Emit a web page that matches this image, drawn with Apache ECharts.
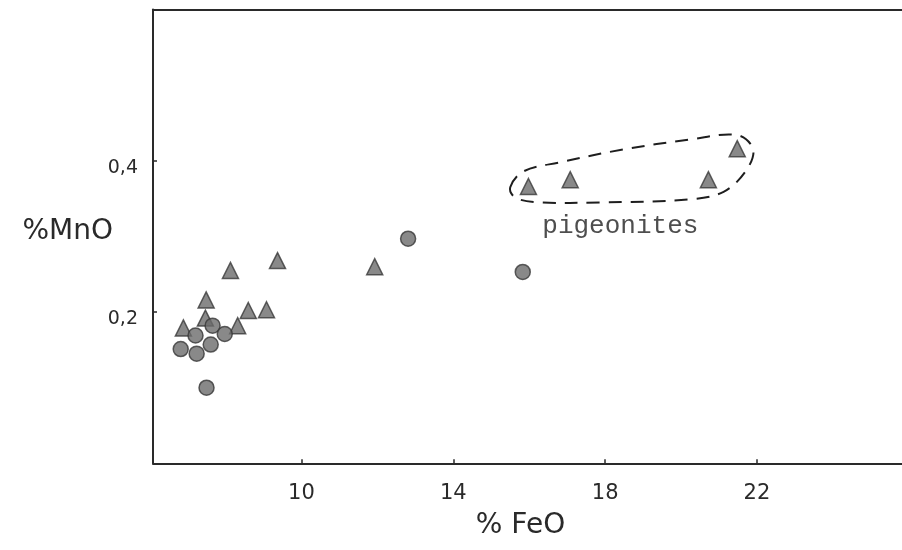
<!DOCTYPE html>
<html>
<head>
<meta charset="utf-8">
<script src="https://cdn.jsdelivr.net/npm/echarts@6/dist/echarts.min.js"></script>
<style>
  html, body { margin: 0; padding: 0; background: #ffffff; }
  #chart { width: 902px; height: 550px; }
</style>
</head>
<body>
<div id="chart"></div>
<script>
// MnO versus FeO contents (wt %) of the analysed pyroxenes

// triangles
const triangleFeO = [6.89, 7.47, 7.49, 8.13, 8.32, 8.60, 9.08, 9.37, 11.93, 15.98, 17.08, 20.72, 21.48];
const triangleMnO = [0.179, 0.192, 0.216, 0.255, 0.182, 0.202, 0.203, 0.268, 0.260, 0.366, 0.375, 0.375, 0.416];

// circles
const circleFeO = [6.82, 7.24, 7.61, 7.21, 7.66, 7.98, 7.50, 12.81, 15.83];
const circleMnO = [0.151, 0.145, 0.157, 0.169, 0.182, 0.171, 0.100, 0.297, 0.253];

// tick labels
const xTicks = [10, 14, 18, 22];
const yTicks = [0.2, 0.4];

// dashed outline around the pigeonite group (FeO, MnO)
const outlineFeO = [15.50, 15.85, 16.82, 18.48, 20.24, 21.48, 21.90, 21.70, 21.12, 20.24, 17.88, 16.30, 15.64];
const outlineMnO = [0.365, 0.386, 0.398, 0.415, 0.428, 0.434, 0.415, 0.386, 0.359, 0.349, 0.345, 0.345, 0.351];

// annotation
const groupLabel = 'pigeonites';
const groupLabelPos = [18.40, 0.314];

const ink = '#2a2a2a';
const markFill = '#6c6c6c';
const markEdge = '#383838';
const xMin = 6.09, xMax = 25.82;

const zip = (xs, ys) => xs.map((x, i) => [x, ys[i]]);

const chart = echarts.init(document.getElementById('chart'), null, { renderer: 'canvas' });

chart.setOption({
  backgroundColor: '#ffffff',
  animation: false,
  grid: { left: 153, right: 0, top: 9.5, bottom: 86.7, show: false, containLabel: false },
  xAxis: [
    {
      type: 'value', min: xMin, max: xMax, position: 'bottom',
      name: '% FeO', nameLocation: 'middle', nameGap: 62,
      nameTextStyle: { fontFamily: 'DejaVu Sans', fontSize: 28, color: ink,
        verticalAlign: 'middle', padding: [0, 14, 0, 0] },
      axisLine: { show: true, lineStyle: { color: ink, width: 2 } },
      axisTick: { show: true, inside: true, length: 4, customValues: xTicks,
        lineStyle: { color: ink, width: 1.5 } },
      axisLabel: { show: true, customValues: xTicks, margin: 20,
        fontFamily: 'DejaVu Sans', fontSize: 21, color: ink },
      splitLine: { show: false }
    },
    {
      // top frame line
      type: 'value', min: xMin, max: xMax, position: 'top',
      axisLine: { show: true, lineStyle: { color: ink, width: 2 } },
      axisTick: { show: false }, axisLabel: { show: false }, splitLine: { show: false }
    }
  ],
  yAxis: {
    type: 'value', min: 0, max: 0.6,
    name: '%MnO', nameLocation: 'middle', nameGap: 40, nameRotate: 0,
    nameMoveOverlap: false,
    nameTextStyle: { fontFamily: 'DejaVu Sans', fontSize: 28, color: ink,
      align: 'right', verticalAlign: 'bottom', lineHeight: 10 },
    axisLine: { show: true, lineStyle: { color: ink, width: 2 } },
    axisTick: { show: true, inside: true, length: 4, customValues: yTicks,
      lineStyle: { color: ink, width: 1.5 } },
    axisLabel: { show: true, customValues: yTicks, margin: 15,
      fontFamily: 'DejaVu Sans', fontSize: 19, color: ink,
      verticalAlign: 'top', lineHeight: 14,
      formatter: v => v.toFixed(1).replace('.', ',') },
    splitLine: { show: false }
  },
  series: [
    {
      type: 'scatter', symbol: 'triangle', symbolSize: 16,
      itemStyle: { color: markFill, borderColor: markEdge, borderWidth: 1.5 },
      data: zip(triangleFeO, triangleMnO)
    },
    {
      type: 'scatter', symbol: 'circle', symbolSize: 15,
      itemStyle: { color: markFill, borderColor: markEdge, borderWidth: 1.5 },
      data: zip(circleFeO, circleMnO)
    },
    {
      type: 'custom', silent: true,
      renderItem: function (params, api) {
        if (params.dataIndex !== 0) return null;
        const pts = outlineFeO.map((x, i) => api.coord([x, outlineMnO[i]]));
        return {
          type: 'polygon',
          shape: { points: pts, smooth: 0.35 },
          style: { fill: 'none', stroke: '#1e1e1e', lineWidth: 2, lineDash: [13, 9] }
        };
      },
      data: [[outlineFeO[0], outlineMnO[0]]]
    },
    {
      type: 'scatter', symbolSize: 0, silent: true,
      label: { show: true, position: 'inside', formatter: groupLabel,
        fontFamily: 'Liberation Mono', fontSize: 26, color: '#222222' },
      data: [groupLabelPos]
    }
  ]
});
</script>
</body>
</html>
